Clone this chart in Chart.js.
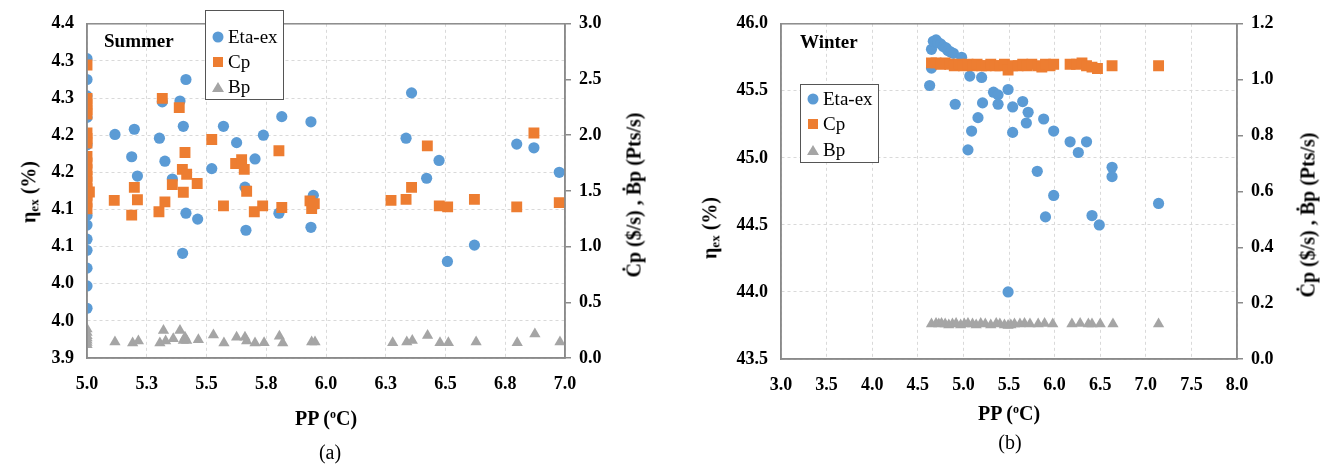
<!DOCTYPE html>
<html>
<head>
<meta charset="utf-8">
<script src="https://cdn.jsdelivr.net/npm/chart.js@4.4.1/dist/chart.umd.min.js"></script>
<style>
  html, body { margin:0; padding:0; background:#fff; }
  body { width:1328px; height:466px; position:relative; overflow:hidden; font-family:'Liberation Serif','Times New Roman',serif; }
  .cv { position:absolute; top:0; width:664px; height:466px; }
  .t { position:absolute; white-space:nowrap; color:#000; }
  .rot { transform:translate(-50%,-50%) rotate(-90deg); font-weight:bold; font-size:20px; }
  .ctr { transform:translate(-50%,-50%); }
  .xt { font-weight:bold; font-size:20px; }
  .cap { font-size:20px; }
  .season { font-weight:bold; font-size:19px; transform:translateY(-50%); }
  .legend { position:absolute; border:1px solid #555; background:#fff; font-size:19px; }
  .li { position:absolute; left:0; height:20px; line-height:20px; }
  .mk { position:absolute; top:50%; transform:translate(-50%,-50%); }
  .circ { width:11px; height:11px; border-radius:50%; background:#5B9BD5; }
  .sq { width:10px; height:10px; background:#ED7D31; }
  .tri { width:0; height:0; border-left:6px solid transparent; border-right:6px solid transparent; border-bottom:10px solid #A5A5A5; }
  sub { font-size:65%; vertical-align:-0.25em; }
  sup { font-size:60%; vertical-align:0.55em; }
</style>
</head>
<body>
<div class="cv" style="left:0"><canvas id="cA" width="664" height="466"></canvas></div>
<div class="cv" style="left:664px"><canvas id="cB" width="664" height="466"></canvas></div>

<!-- Summer overlays -->
<div class="t rot" style="left:30px; top:192px;">η<sub>ex</sub> (%)</div>
<div class="t rot" style="left:634px; top:195px;">Ċp ($/s) , Ḃp (Pts/s)</div>
<div class="t xt ctr" style="left:326px; top:418px;">PP (<sup>o</sup>C)</div>
<div class="t cap ctr" style="left:330px; top:452px;">(a)</div>
<div class="t season" style="left:104px; top:41px;">Summer</div>
<div class="legend" style="left:205px; top:10px; width:77px; height:88px;">
  <div class="li" style="top:16px; width:77px;"><span class="mk circ" style="left:12px"></span><span style="position:absolute;left:22px;">Eta-ex</span></div>
  <div class="li" style="top:41px; width:77px;"><span class="mk sq" style="left:12px"></span><span style="position:absolute;left:22px;">Cp</span></div>
  <div class="li" style="top:66px; width:77px;"><span class="mk tri" style="left:12px"></span><span style="position:absolute;left:22px;">Bp</span></div>
</div>

<!-- Winter overlays -->
<div class="t rot" style="left:711px; top:228px;">η<sub>ex</sub> (%)</div>
<div class="t rot" style="left:1308px; top:215px;">Ċp ($/s) , Ḃp (Pts/s)</div>
<div class="t xt ctr" style="left:1009px; top:413px;">PP (<sup>o</sup>C)</div>
<div class="t cap ctr" style="left:1010px; top:442px;">(b)</div>
<div class="t season" style="left:800px; top:42px;">Winter</div>
<div class="legend" style="left:800px; top:84px; width:77px; height:77px;">
  <div class="li" style="top:4px; width:77px;"><span class="mk circ" style="left:12px"></span><span style="position:absolute;left:22px;">Eta-ex</span></div>
  <div class="li" style="top:29px; width:77px;"><span class="mk sq" style="left:12px"></span><span style="position:absolute;left:22px;">Cp</span></div>
  <div class="li" style="top:55px; width:77px;"><span class="mk tri" style="left:12px"></span><span style="position:absolute;left:22px;">Bp</span></div>
</div>

<script>
// ---------- Summer (a) ----------
const summerEtaPP = [5,5,5,5,5,5,5,5,5,5,5,5,
  5.117,5.198,5.187,5.211,5.303,5.315,5.326,5.357,5.389,5.414,5.403,5.414,5.463,5.400,5.522,5.571,5.626,5.661,5.665,5.703,5.738,5.815,5.803,5.937,5.937,5.947,
  6.335,6.358,6.421,6.473,6.508,6.621,6.798,6.870,6.976];
const summerEta = [4.303,4.275,4.253,4.224,4.187,4.092,4.079,4.060,4.045,4.021,3.997,3.967,
  4.201,4.208,4.171,4.145,4.196,4.245,4.165,4.141,4.246,4.275,4.212,4.095,4.087,4.041,4.155,4.212,4.190,4.130,4.072,4.168,4.200,4.225,4.095,4.218,4.076,4.119,
  4.196,4.257,4.142,4.166,4.030,4.052,4.188,4.183,4.150];

const summerCpPP = [5,5,5,5,5,5,5,5,5,5,5,5,5,5,5,5,5,5.01,
  5.114,5.187,5.198,5.211,5.301,5.326,5.315,5.386,5.357,5.403,5.410,5.399,5.417,5.461,5.522,5.571,5.622,5.647,5.658,5.668,5.700,5.735,5.803,5.815,5.933,5.940,5.951,
  6.272,6.335,6.358,6.424,6.474,6.509,6.621,6.798,6.870,6.976];
const summerCp = [2.63,2.33,2.28,2.23,2.19,2.02,1.97,1.93,1.81,1.75,1.69,1.63,1.58,1.52,1.46,1.40,1.34,1.49,
  1.415,1.283,1.532,1.421,1.313,1.401,2.331,2.248,1.556,1.488,1.845,1.693,1.649,1.567,1.962,1.366,1.746,1.781,1.693,1.497,1.313,1.366,1.860,1.351,1.410,1.342,1.386,
  1.415,1.424,1.532,1.904,1.366,1.357,1.424,1.357,2.020,1.395];

const summerBpPP = [5,5,5,5,5,5,5,
  5.117,5.191,5.215,5.305,5.320,5.329,5.361,5.389,5.403,5.410,5.417,5.466,5.529,5.573,5.626,5.661,5.668,5.703,5.741,5.805,5.819,5.940,5.954,
  6.279,6.338,6.361,6.425,6.477,6.512,6.628,6.800,6.874,6.979];
const summerBp = [0.12,0.14,0.16,0.18,0.20,0.23,0.26,
  0.143,0.134,0.152,0.134,0.246,0.152,0.173,0.246,0.158,0.187,0.158,0.164,0.207,0.134,0.187,0.187,0.152,0.134,0.138,0.196,0.134,0.143,0.143,
  0.138,0.143,0.158,0.202,0.138,0.138,0.143,0.138,0.216,0.143];

const summerXLabels = ['5.0','5.3','5.5','5.8','6.0','6.3','6.5','6.8','7.0'];
const summerYLabels = ['3.9','4.0','4.0','4.1','4.1','4.2','4.2','4.3','4.3','4.4'];
const summerY1Labels = ['0.0','0.5','1.0','1.5','2.0','2.5','3.0'];

// ---------- Winter (b) ----------
const winterEtaPP = [4.63,4.65,4.65,4.67,4.70,4.72,4.75,4.78,4.81,4.83,4.86,4.89,4.91,4.98,5.05,5.07,5.09,5.16,5.20,5.21,5.33,5.38,5.38,5.49,5.49,5.54,5.54,5.65,5.69,5.71,5.81,5.88,5.90,5.99,5.99,6.17,6.26,6.35,6.41,6.49,6.63,6.63,7.14];
const winterEta = [45.54,45.67,45.81,45.87,45.88,45.86,45.85,45.83,45.82,45.80,45.79,45.78,45.40,45.75,45.06,45.61,45.20,45.30,45.60,45.41,45.49,45.47,45.40,45.51,44.00,45.38,45.19,45.42,45.26,45.34,44.90,45.29,44.56,45.20,44.72,45.12,45.04,45.12,44.57,44.50,44.93,44.86,44.66];

const winterCpPP = [4.65,4.70,4.75,4.80,4.85,4.90,4.95,5.00,5.05,5.10,5.15,5.20,5.25,5.30,5.35,5.40,5.45,5.49,5.54,5.60,5.65,5.70,5.75,5.82,5.86,5.90,5.95,5.99,6.17,6.24,6.30,6.35,6.41,6.47,6.63,7.14];
const winterCp = [1.06,1.06,1.055,1.06,1.055,1.05,1.055,1.05,1.055,1.05,1.055,1.05,1.05,1.055,1.05,1.05,1.055,1.034,1.05,1.05,1.055,1.05,1.055,1.05,1.045,1.055,1.05,1.055,1.055,1.055,1.06,1.05,1.045,1.04,1.05,1.05];

const winterBpPP = [4.65,4.70,4.73,4.76,4.80,4.84,4.88,4.92,4.97,5.01,5.05,5.10,5.14,5.19,5.24,5.30,5.36,5.40,5.45,5.49,5.52,5.56,5.62,5.67,5.73,5.82,5.89,5.98,6.19,6.28,6.37,6.41,6.50,6.64,7.14];
const winterBp = [0.125,0.127,0.125,0.127,0.125,0.122,0.125,0.127,0.122,0.125,0.127,0.125,0.122,0.127,0.125,0.122,0.127,0.125,0.122,0.12,0.122,0.125,0.125,0.127,0.125,0.125,0.127,0.125,0.125,0.127,0.125,0.125,0.125,0.125,0.125];

const winterXLabels = ['3.0','3.5','4.0','4.5','5.0','5.5','6.0','6.5','7.0','7.5','8.0'];
const winterYLabels = ['43.5','44.0','44.5','45.0','45.5','46.0'];
const winterY1Labels = ['0.0','0.2','0.4','0.6','0.8','1.0','1.2'];

const BLUE = '#5B9BD5', ORANGE = '#ED7D31', GRAY = '#A5A5A5';
const SERIF = "'Liberation Serif','Times New Roman',serif";
const tickFont = { family: SERIF, size: 18, weight: 'bold' };
const AXIS = '#8a8a8a';
const GRID = '#d9d9d9';

function pts(xs, ys) { return xs.map((x, i) => ({ x: x, y: ys[i] })); }

const frame = {
  id: 'frame',
  afterDatasetsDraw(chart) {
    const a = chart.chartArea, c = chart.ctx;
    c.save(); c.strokeStyle = AXIS; c.lineWidth = 1.5;
    c.strokeRect(a.left, a.top, a.right - a.left, a.bottom - a.top);
    c.restore();
  }
};

function build(id, cfg) {
  return new Chart(document.getElementById(id), {
    type: 'scatter',
    data: { datasets: [
      { label: 'Eta-ex', data: pts(cfg.etaPP, cfg.eta), yAxisID: 'y', pointStyle: 'circle', pointRadius: 5.6, backgroundColor: BLUE, borderColor: BLUE, borderWidth: 0, order: 3 },
      { label: 'Cp', data: pts(cfg.cpPP, cfg.cp), yAxisID: 'y1', pointStyle: 'rect', pointRadius: 7.7, backgroundColor: ORANGE, borderColor: ORANGE, borderWidth: 0, order: 2 },
      { label: 'Bp', data: pts(cfg.bpPP, cfg.bp), yAxisID: 'y1', pointStyle: 'triangle', pointRadius: 6.5, backgroundColor: GRAY, borderColor: GRAY, borderWidth: 0, order: 1 }
    ]},
    options: {
      responsive: false, animation: false, events: [],
      layout: { padding: { top: cfg.top, left: 0, right: 0, bottom: 0 } },
      plugins: { legend: { display: false }, tooltip: { enabled: false } },
      scales: {
        x: {
          type: 'linear', min: cfg.xmin, max: cfg.xmax,
          ticks: { stepSize: cfg.xstep, color: '#000', font: tickFont, padding: cfg.xpad, maxRotation: 0, autoSkip: false,
                   callback: (v, i) => cfg.xLabels[i] },
          grid: { color: GRID, drawTicks: false },
          border: { display: true, color: AXIS, width: 1.5, dash: [3,3] },
          afterFit: s => { s.height = cfg.xh; }
        },
        y: {
          position: 'left', min: cfg.ymin, max: cfg.ymax,
          ticks: { stepSize: cfg.ystep, color: '#000', font: tickFont, padding: 13, autoSkip: false,
                   callback: (v, i) => cfg.yLabels[i] },
          grid: { color: GRID, drawTicks: false },
          border: { display: true, color: AXIS, width: 1.5, dash: [3,3] },
          afterFit: s => { s.width = cfg.yw; }
        },
        y1: {
          position: 'right', min: cfg.y1min, max: cfg.y1max,
          ticks: { stepSize: cfg.y1step, color: '#000', font: tickFont, padding: 8, autoSkip: false,
                   callback: (v, i) => cfg.y1Labels[i] },
          grid: { drawOnChartArea: false, drawTicks: true, tickLength: 6, color: AXIS, lineWidth: 1.5 },
          border: { display: true, color: AXIS, width: 1.5 },
          afterFit: s => { s.width = cfg.y1w; }
        }
      }
    },
    plugins: [frame]
  });
}

const chartA = build('cA', {
  etaPP: summerEtaPP, eta: summerEta, cpPP: summerCpPP, cp: summerCp, bpPP: summerBpPP, bp: summerBp,
  xmin: 5, xmax: 7, xstep: 0.25, xLabels: summerXLabels,
  ymin: 3.9, ymax: 4.35, ystep: 0.05, yLabels: summerYLabels,
  y1min: 0, y1max: 3, y1step: 0.5, y1Labels: summerY1Labels,
  top: 16, xh: 108, yw: 87, y1w: 99, xpad: 16
});
const chartB = build('cB', {
  etaPP: winterEtaPP, eta: winterEta, cpPP: winterCpPP, cp: winterCp, bpPP: winterBpPP, bp: winterBp,
  xmin: 3, xmax: 8, xstep: 0.5, xLabels: winterXLabels,
  ymin: 43.5, ymax: 46, ystep: 0.5, yLabels: winterYLabels,
  y1min: 0, y1max: 1.2, y1step: 0.2, y1Labels: winterY1Labels,
  top: 19, xh: 107, yw: 117, y1w: 91, xpad: 16
});
</script>
</body>
</html>
